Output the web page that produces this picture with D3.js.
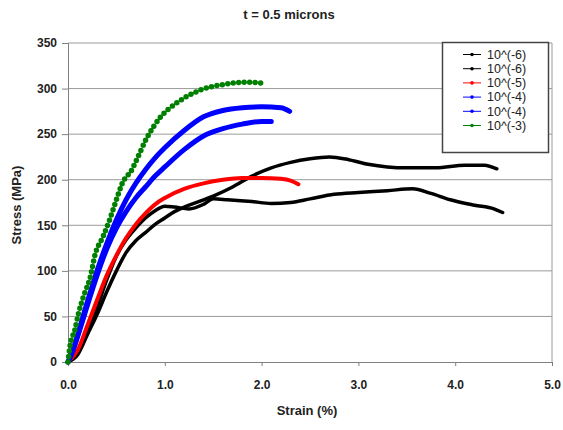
<!DOCTYPE html>
<html><head><meta charset="utf-8">
<script src="https://cdn.jsdelivr.net/npm/d3@7"></script>
<style>body{margin:0;background:#fff}svg{display:block}text{font-family:"Liberation Sans",Arial,sans-serif}</style>
</head><body><svg id="c" width="563" height="430"></svg>
<script>
const title = "t = 0.5 microns";
const xTicks = [0, 1, 2, 3, 4, 5];
const yTicks = [0, 50, 100, 150, 200, 250, 300, 350];
const seriesNames = ["10^(-6)", "10^(-6)", "10^(-5)", "10^(-4)", "10^(-4)", "10^(-3)"];
const seriesColors = ["#000000", "#000000", "#ff0000", "#0000ff", "#0000ff", "#008000"];

const blackA_strain = [0,0.1,0.2,0.3,0.4,0.5,0.6,0.7,0.8,0.9,1.0,1.1,1.2,1.35,1.5,1.7,1.9,2.1,2.3,2.5,2.7,2.9,3.1,3.3,3.5,3.8,4.1,4.3,4.43];
const blackA_stress = [0,8,30,52,77,100,120,133,142,151,158,165,170,176,182,192,204,213,219,223,225,222,217,214,213,213,216,216,212];
const blackB_strain = [0,0.1,0.2,0.3,0.4,0.5,0.6,0.7,0.8,0.9,1.0,1.1,1.25,1.4,1.5,1.65,1.9,2.1,2.3,2.5,2.75,3.0,3.3,3.56,3.75,3.95,4.2,4.4,4.49];
const blackB_stress = [0,10,34,60,90,116,134,147,158,166,171,170,168,173,179,178,176,174,175,179,184,186,188,190,185,178,172,168,164];
const red_strain = [0,0.1,0.2,0.3,0.4,0.5,0.6,0.7,0.8,0.9,1.0,1.2,1.4,1.6,1.8,2.0,2.2,2.3,2.38];
const red_stress = [0,13,40,68,95,117,136,151,163,173,180,190,196,200,202,202,201,199,195];
const blueA_strain = [0,0.05,0.1,0.2,0.3,0.4,0.5,0.6,0.7,0.8,0.9,1.0,1.2,1.4,1.6,1.8,2.0,2.2,2.29];
const blueA_stress = [0,13,30,66,100,130,156,178,196,211,224,235,254,269,276,279,280,279,275];
const blueB_strain = [0,0.05,0.1,0.2,0.3,0.4,0.5,0.6,0.7,0.8,0.9,1.0,1.2,1.4,1.6,1.8,2.0,2.1];
const blueB_stress = [0,12,28,62,95,124,147,165,180,192,204,214,233,248,256,261,264,264];
const green_strain = [0,0.02,0.07,0.11,0.16,0.23,0.28,0.36,0.43,0.5,0.56,0.66,0.71,0.81,0.95,1.12,1.36,1.64,1.85,2.01];
const green_stress = [0,17,35,54,72,93,118,137,156,178,196,211,222,245,268,284,298,305,307,306];

const strains = [blackA_strain, blackB_strain, red_strain, blueA_strain, blueB_strain, green_strain];
const stresses = [blackA_stress, blackB_stress, red_stress, blueA_stress, blueB_stress, green_stress];

const svg = d3.select("#c");
const L = 68, R = 552, T = 43, B = 362;
const x = d3.scaleLinear().domain([0, 5]).range([L, R]);
const y = d3.scaleLinear().domain([0, 350]).range([B, T]);

svg.append("g").selectAll("line").data(yTicks.filter(d => d > 0)).join("line")
  .attr("x1", L).attr("x2", R).attr("y1", d => y(d)).attr("y2", d => y(d))
  .attr("stroke", "#9a9a9a").attr("stroke-width", 1);
svg.append("line").attr("x1", R).attr("x2", R).attr("y1", T).attr("y2", B).attr("stroke", "#9a9a9a");

const yAxis = svg.append("g").attr("transform", `translate(${L},0)`)
  .call(d3.axisLeft(y).tickValues(yTicks).tickSize(6).tickPadding(5).tickFormat(d3.format("d")));
const xAxis = svg.append("g").attr("transform", `translate(0,${B})`)
  .call(d3.axisBottom(x).tickValues(xTicks).tickSize(4).tickPadding(14).tickFormat(d3.format(".1f")));
[yAxis, xAxis].forEach(a => {
  a.select(".domain").attr("stroke", "#808080");
  a.selectAll(".tick line").attr("stroke", "#808080");
  a.selectAll(".tick text").attr("font-size", 12).attr("font-weight", "bold").attr("fill", "#222")
    .attr("font-family", '"Liberation Sans",Arial,sans-serif');
});

const line = d3.line().x(d => x(d[0])).y(d => y(d[1])).curve(d3.curveMonotoneX);
const widths = [3.5, 3.5, 4, 5, 5, 5.5];
strains.forEach((s, i) => {
  const pts = s.map((v, j) => [v, stresses[i][j]]);
  const p = svg.append("path").attr("d", line(pts)).attr("fill", "none")
    .attr("stroke", seriesColors[i]).attr("stroke-width", widths[i])
    .attr("stroke-linecap", "round").attr("stroke-linejoin", "round");
  if (i === 5) p.attr("stroke-dasharray", "0 5.5");
});

const lg = svg.append("g");
lg.append("rect").attr("x", 442.5).attr("y", 42.5).attr("width", 106).attr("height", 110)
  .attr("fill", "#fff").attr("stroke", "#444").attr("stroke-width", 1.5);
seriesNames.forEach((n, i) => {
  const yy = 54.5 + i * 14.2;
  lg.append("line").attr("x1", 463).attr("x2", 481).attr("y1", yy).attr("y2", yy)
    .attr("stroke", seriesColors[i]).attr("stroke-width", 1);
  lg.append("circle").attr("cx", 472).attr("cy", yy).attr("r", 1.8).attr("fill", seriesColors[i]);
  lg.append("text").attr("x", 487).attr("y", yy + 4.3).attr("font-size", 12.5).attr("fill", "#222").text(n);
});

svg.append("text").attr("x", 289).attr("y", 19).attr("text-anchor", "middle")
  .attr("font-size", 13).attr("font-weight", "bold").attr("fill", "#222").text(title);
svg.append("text").attr("transform", "translate(21,205) rotate(-90)").attr("text-anchor", "middle")
  .attr("font-size", 13).attr("font-weight", "bold").attr("fill", "#222").text("Stress (MPa)");
svg.append("text").attr("x", 307).attr("y", 415).attr("text-anchor", "middle")
  .attr("font-size", 13).attr("font-weight", "bold").attr("fill", "#222").text("Strain (%)");
</script></body></html>
